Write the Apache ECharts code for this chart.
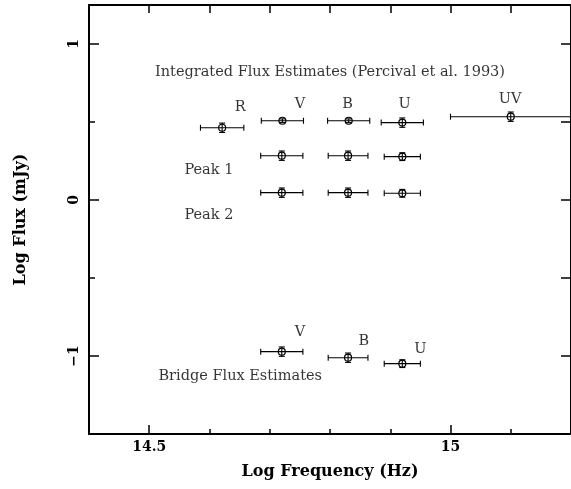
<!DOCTYPE html>
<html>
<head>
<meta charset="utf-8">
<script src="https://cdn.jsdelivr.net/npm/echarts@6/dist/echarts.min.js"></script>
<style>
  html, body { margin: 0; padding: 0; background: #fff; }
  #chart { width: 571px; height: 489px; }
</style>
</head>
<body>
<div id="chart"></div>
<script>
// Integrated flux estimates: [logFreq, logFlux, xErr, yErr]
const integrated = [
  [14.621, 0.463, 0.036, 0.03],   // R
  [14.721, 0.508, 0.035, 0.012],  // V
  [14.831, 0.508, 0.035, 0.012],  // B
  [14.920, 0.496, 0.035, 0.03],   // U
  [15.100, 0.534, 0.100, 0.03]    // UV
];
const peak1 = [
  [14.720, 0.284, 0.035, 0.03],
  [14.830, 0.284, 0.033, 0.03],
  [14.920, 0.278, 0.030, 0.025]
];
const peak2 = [
  [14.720, 0.047, 0.035, 0.03],
  [14.830, 0.047, 0.033, 0.03],
  [14.920, 0.043, 0.030, 0.025]
];
const bridge = [
  [14.720, -0.972, 0.035, 0.03],
  [14.830, -1.011, 0.033, 0.03],
  [14.920, -1.049, 0.030, 0.025]
];

// Text annotations placed in data coordinates: [logFreq, logFlux, text]
const notes = [
  [14.800, 0.821, 'Integrated Flux Estimates (Percival et al. 1993)'],
  [14.651, 0.596, 'R'],
  [14.750, 0.615, 'V'],
  [14.829, 0.615, 'B'],
  [14.924, 0.615, 'U'],
  [15.099, 0.647, 'UV'],
  [14.599, 0.192, 'Peak 1'],
  [14.599, -0.096, 'Peak 2'],
  [14.750, -0.846, 'V'],
  [14.856, -0.904, 'B'],
  [14.950, -0.955, 'U'],
  [14.651, -1.128, 'Bridge Flux Estimates']
];

const xMajor = [14.5, 15];
const xMinor = [14.5, 14.6, 14.7, 14.8, 14.9, 15.0, 15.1];
const yMajor = [-1, 0, 1];
const yMinor = [-0.5, 0.5];

const serif = '"DejaVu Serif", "Liberation Serif", serif';
const ink = '#000';

function errorBarItem(params, api) {
  const x = api.value(0), y = api.value(1), dx = api.value(2), dy = api.value(3);
  const c = api.coord([x, y]);
  const l = api.coord([x - dx, y]);
  const r = api.coord([x + dx, y]);
  const t = api.coord([x, y + dy]);
  const b = api.coord([x, y - dy]);
  const cap = 3;
  const st = { stroke: ink, lineWidth: 1.1, fill: null };
  return {
    type: 'group',
    children: [
      { type: 'line', shape: { x1: l[0], y1: c[1], x2: r[0], y2: c[1] }, style: st },
      { type: 'line', shape: { x1: l[0], y1: c[1] - cap, x2: l[0], y2: c[1] + cap }, style: st },
      { type: 'line', shape: { x1: r[0], y1: c[1] - cap, x2: r[0], y2: c[1] + cap }, style: st },
      { type: 'line', shape: { x1: c[0], y1: t[1], x2: c[0], y2: b[1] }, style: st },
      { type: 'line', shape: { x1: c[0] - cap, y1: t[1], x2: c[0] + cap, y2: t[1] }, style: st },
      { type: 'line', shape: { x1: c[0] - cap, y1: b[1], x2: c[0] + cap, y2: b[1] }, style: st },
      { type: 'circle', shape: { cx: c[0], cy: c[1], r: 3.5 }, style: { stroke: ink, lineWidth: 1.2, fill: 'none' } }
    ]
  };
}

function errSeries(name, data) {
  return {
    name: name,
    type: 'custom',
    xAxisIndex: 0,
    yAxisIndex: 0,
    renderItem: errorBarItem,
    data: data,
    clip: false,
    silent: true
  };
}

const frame = { show: true, onZero: false, lineStyle: { color: ink, width: 2 } };
const noLine = { show: false, onZero: false };

const option = {
  animation: false,
  backgroundColor: '#fff',
  grid: { left: 89, right: -1, top: 5, bottom: 55 },
  xAxis: [
    {
      type: 'value', position: 'bottom', min: 14.4, max: 15.2,
      axisLine: frame,
      axisTick: { show: true, inside: true, length: 9, customValues: xMajor, lineStyle: { color: ink, width: 1.5 } },
      axisLabel: {
        show: true, customValues: xMajor, margin: 6,
        fontFamily: serif, fontWeight: 'bold', fontSize: 14, color: ink,
        formatter: v => String(Math.round(v * 10) / 10)
      },
      splitLine: { show: false },
      name: 'Log Frequency (Hz)', nameLocation: 'middle', nameGap: 30,
      nameTextStyle: { fontFamily: serif, fontWeight: 'bold', fontSize: 16, color: ink }
    },
    {
      type: 'value', position: 'bottom', min: 14.4, max: 15.2,
      axisLine: noLine,
      axisTick: { show: true, inside: true, length: 5, customValues: xMinor, lineStyle: { color: ink, width: 1.5 } },
      axisLabel: { show: false }, splitLine: { show: false }
    },
    {
      type: 'value', position: 'top', min: 14.4, max: 15.2,
      axisLine: frame,
      axisTick: { show: true, inside: true, length: 8, customValues: xMinor, lineStyle: { color: ink, width: 1.5 } },
      axisLabel: { show: false }, splitLine: { show: false }
    }
  ],
  yAxis: [
    {
      type: 'value', position: 'left', min: -1.5, max: 1.25,
      axisLine: frame,
      axisTick: { show: true, inside: true, length: 10, customValues: yMajor, lineStyle: { color: ink, width: 1.5 } },
      axisLabel: {
        show: true, customValues: yMajor, rotate: 90, margin: 8,
        fontFamily: serif, fontWeight: 'bold', fontSize: 14, color: ink,
        formatter: v => (v < 0 ? '\u2212' + Math.abs(v) : String(v))
      },
      splitLine: { show: false },
      name: 'Log Flux (mJy)', nameLocation: 'middle', nameGap: 60,
      nameTextStyle: { fontFamily: serif, fontWeight: 'bold', fontSize: 16, color: ink }
    },
    {
      type: 'value', position: 'left', min: -1.5, max: 1.25,
      axisLine: noLine,
      axisTick: { show: true, inside: true, length: 6, customValues: yMinor, lineStyle: { color: ink, width: 1.5 } },
      axisLabel: { show: false }, splitLine: { show: false }
    },
    {
      type: 'value', position: 'right', min: -1.5, max: 1.25,
      axisLine: frame,
      axisTick: { show: true, inside: true, length: 10, customValues: yMajor.concat(yMinor), lineStyle: { color: ink, width: 1.5 } },
      axisLabel: { show: false }, splitLine: { show: false }
    }
  ],
  series: [
    errSeries('Integrated', integrated),
    errSeries('Peak 1', peak1),
    errSeries('Peak 2', peak2),
    errSeries('Bridge', bridge),
    {
      name: 'notes',
      type: 'scatter',
      xAxisIndex: 0,
      yAxisIndex: 0,
      symbolSize: 0,
      silent: true,
      data: notes.map(n => ({ value: [n[0], n[1]], name: n[2] })),
      label: {
        show: true, position: 'inside', formatter: p => p.name,
        fontFamily: serif, fontSize: 14.5, color: ink
      }
    }
  ]
};

const chart = echarts.init(document.getElementById('chart'), null, { renderer: 'canvas' });
chart.setOption(option);
</script>
</body>
</html>
